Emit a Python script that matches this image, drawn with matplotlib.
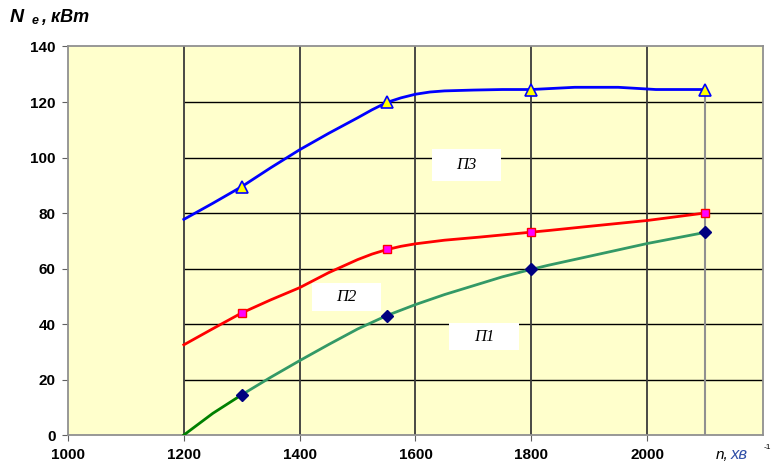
import matplotlib
matplotlib.use("Agg")
import matplotlib.pyplot as plt
from matplotlib.patches import Rectangle

plt.rcParams['font.family'] = ['Liberation Sans', 'DejaVu Sans']

# measured points (markers)
n_pts = [1300, 1550, 1800, 2100]
p3_pts = [89.5, 120, 124.5, 124.5]
p2_pts = [44, 67, 73, 80]
p1_pts = [14.5, 43, 60, 73]

# curves
n_p3 = [1200, 1250, 1300, 1350, 1400, 1450, 1500, 1525, 1550, 1575, 1600, 1625, 1650, 1700, 1750, 1800, 1875, 1950, 2015, 2100]
p3 = [77.7, 83.5, 89.5, 96.3, 102.8, 108.7, 114.3, 117.2, 119.8, 121.5, 122.8, 123.6, 124.0, 124.3, 124.5, 124.5, 125.3, 125.3, 124.5, 124.5]

n_p2 = [1200, 1250, 1300, 1350, 1400, 1450, 1500, 1525, 1550, 1575, 1600, 1650, 1710, 1800, 1830, 1900, 2000, 2100]
p2 = [32.5, 38.3, 44, 48.7, 53.1, 58.5, 63.2, 65.2, 66.8, 68.0, 68.9, 70.2, 71.3, 73.1, 73.7, 75.2, 77.3, 80]

n_p1a = [1200, 1250, 1300]
p1a = [0, 7.8, 14.5]
n_p1 = [1300, 1350, 1400, 1450, 1500, 1550, 1600, 1650, 1700, 1750, 1800, 1830, 1900, 2000, 2100]
p1 = [14.5, 20.8, 26.8, 32.6, 38.2, 43, 47.0, 50.6, 53.8, 57.0, 59.7, 61.2, 64.4, 69.0, 73]

# label boxes: text, x0, x1, y0, y1
labels = [('П3', 1629, 1748, 91.7, 103.2),
          ('П2', 1421, 1541, 44.6, 54.7),
          ('П1', 1657, 1779, 30.6, 40.3)]

yticks = [0, 20, 40, 60, 80, 100, 120, 140]
xticks = [1000, 1200, 1400, 1600, 1800, 2000]

fig = plt.figure(figsize=(7.78, 4.65), dpi=100)
ax = fig.add_axes([0.0874, 0.0645, 0.8933, 0.8355])
ax.set_facecolor('#FFFFCC')
ax.set_xlim(1000, 2200)
ax.set_ylim(0, 140)

# grid: horizontal lines only from 1200, vertical at 1200..2000
ax.hlines([20, 40, 60, 80, 100, 120], 1200, 2200, colors='black', lw=1.0, zorder=1)
ax.vlines([1200, 1400, 1600, 1800, 2000], 0, 140, colors='#3a3a3a', lw=1.3, zorder=1)
ax.vlines([2100], 0, p3_pts[-1], colors='#909090', lw=1.5, zorder=1)

ax.plot(n_p3, p3, color='#0000FF', lw=2, zorder=3)
ax.plot(n_p2, p2, color='#FF0000', lw=2, zorder=3)
ax.plot(n_p1a, p1a, color='#008000', lw=2, zorder=3)
ax.plot(n_p1, p1, color='#339966', lw=2, zorder=3)

ax.plot(n_pts, p3_pts, ls='none', marker='^', ms=9, mfc='#FFFF00', mec='#0000FF', mew=1.2, zorder=4)
ax.plot(n_pts, p2_pts, ls='none', marker='s', ms=5.5, mfc='#FF00FF', mec='#FF0000', mew=1, zorder=4)
ax.plot(n_pts, p1_pts, ls='none', marker='D', ms=6.5, mfc='#000080', mec='#000080', zorder=4)

# curve labels in white boxes
for txt, x0, x1, y0, y1 in labels:
    ax.add_patch(Rectangle((x0, y0), x1 - x0, y1 - y0, facecolor='white', edgecolor='none', zorder=5))
    ax.text((x0 + x1) / 2, (y0 + y1) / 2, txt, fontsize=12, style='italic',
            family=['Liberation Serif', 'DejaVu Serif'], ha='center', va='center', zorder=6)

for s in ax.spines.values():
    s.set_color('#909090')
    s.set_linewidth(1.3)

ax.set_xticks(xticks)
ax.set_yticks(yticks)
ax.tick_params(labelsize=11, length=4, color='#606060', pad=5)
for lab in ax.get_xticklabels() + ax.get_yticklabels():
    lab.set_fontweight('bold')

# axis titles
fig.text(0.012, 0.952, 'N', fontsize=14, fontweight='bold', style='italic', va='baseline')
fig.text(0.040, 0.948, 'e', fontsize=9, fontweight='bold', style='italic', va='baseline')
fig.text(0.053, 0.952, ', кВт', fontsize=13, fontweight='bold', style='italic', va='baseline')

fig.text(0.920, 0.012, 'n,', fontsize=11, style='italic', va='baseline')
fig.text(0.939, 0.012, 'хв', fontsize=12, style='italic', color='#2F4FA8', va='baseline')
fig.text(0.982, 0.034, '-1', fontsize=6, va='baseline')

fig.savefig('out.png', dpi=100)
